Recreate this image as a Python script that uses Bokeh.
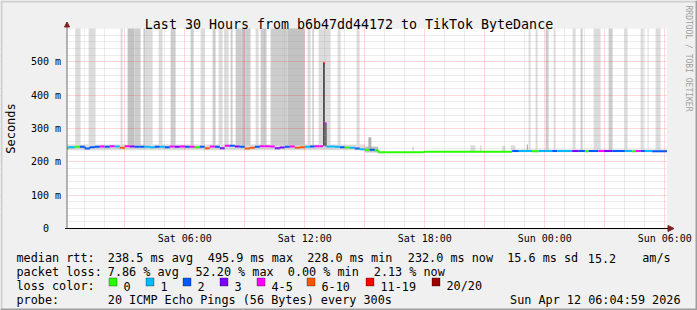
import math
from bokeh.plotting import figure
from bokeh.models import (FixedTicker, Label, BoxAnnotation, Arrow, NormalHead,
                          Range1d, ColumnDataSource)
from bokeh.embed import file_html
from bokeh.resources import INLINE

# ---------------- data ----------------
# time axis: hours since Sat 00:00
X0, X1 = 0.11, 30.11
tick_hours = [6, 12, 18, 24, 30]
tick_labels = ["Sat 06:00", "Sat 12:00", "Sat 18:00", "Sun 00:00", "Sun 06:00"]
Y_MAX = 600
y_ticks = [0, 100, 200, 300, 400, 500]
y_labels = ["0\u00a0\u00a0", "100 m", "200 m", "300 m", "400 m", "500 m"]

loss_labels = ["0", "1", "2", "3", "4-5", "6-10", "11-19", "20/20"]
loss_colors = ["#26ff00", "#00b8ff", "#0059ff", "#7e00ff",
               "#ff00ff", "#ff5500", "#ff0000", "#a10000"]

# median rtt (ms) per interval start (hours) with loss class index
med_t = [0.00, 0.17, 0.50, 0.75, 1.00, 1.25, 1.50, 1.75, 2.00, 2.25,
         2.50, 2.75, 3.00, 3.25, 3.50, 3.75, 4.00, 4.25, 4.50, 4.75,
         5.00, 5.25, 5.50, 5.75, 6.00, 6.25, 6.50, 6.75, 7.00, 7.25,
         7.50, 7.75, 8.00, 8.25, 8.50, 8.75, 9.00, 9.25, 9.50, 9.75,
         10.00, 10.25, 10.50, 10.75, 11.00, 11.25, 11.50, 11.75, 12.00, 12.25,
         12.50, 12.75, 12.92, 13.00, 13.08, 13.25, 13.50, 13.75, 14.00, 14.25,
         14.50, 14.75, 15.00, 15.25, 15.50, 15.67, 17.95, 22.37, 22.70, 23.37,
         23.69, 24.37, 24.62, 25.37, 25.70, 26.03, 26.19, 26.68, 26.94, 27.37,
         28.03, 28.37, 28.54, 28.80, 29.04, 29.37]
med_v = [241, 244, 245, 245, 240, 244, 245, 246, 245, 247,
         246, 242, 247, 246, 245, 245, 245, 244, 245, 245,
         244, 246, 245, 246, 245, 245, 244, 245, 241, 246,
         245, 241, 248, 248, 246, 245, 240, 242, 245, 247,
         247, 246, 241, 243, 245, 246, 242, 244, 245, 246,
         247, 247, 495.9, 316, 246, 246, 245, 244, 243, 242,
         240, 238, 236, 236, 235, 228.5, 230.5, 232.5, 232.5, 232,
         232.5, 232.5, 232.5, 232.5, 232.5, 232, 232.5, 232.5, 232.5, 232.5,
         232.5, 232, 232.5, 232.5, 232.5, 232]
med_c = [5, 1, 0, 2, 2, 2, 2, 4, 2, 4,
         1, 5, 4, 3, 2, 2, 1, 1, 2, 1,
         2, 4, 3, 4, 2, 4, 0, 2, 5, 4,
         2, 3, 4, 2, 3, 2, 5, 5, 2, 4,
         4, 4, 3, 3, 2, 4, 5, 5, 1, 2,
         4, 4, 6, 4, 1, 1, 1, 2, 0, 1,
         2, 1, 0, 2, 0, 0, 0, 2, 1, 0,
         1, 2, 1, 3, 2, 0, 2, 4, 3, 2,
         1, 0, 4, 2, 1, 2]

# smoke: interval start/end (hours), low/high rtt (ms), pings in that band
smoke_t0 = [0.00, 15.00, 22.37,
            0.52, 1.19, 2.79, 3.14, 3.49, 3.94, 3.99, 4.69, 5.29, 6.29,
            6.79, 7.39, 7.69, 7.99, 8.29, 8.54, 8.84, 9.04, 9.54, 9.79,
            10.29, 11.14, 12.14, 12.39, 12.69, 13.64, 14.59,
            12.92, 13.00,
            15.18, 17.37, 20.28, 20.76, 21.87, 22.30, 23.10,
            23.19, 23.54, 24.04, 24.44, 25.39, 25.79, 26.44, 27.19, 27.99,
            28.79, 29.14, 29.54]
smoke_t1 = [15.00, 15.67, 30.11,
            0.79, 1.54, 2.89, 3.49, 3.79, 3.99, 4.39, 4.89, 5.54, 6.44,
            6.99, 7.54, 7.89, 8.19, 8.39, 8.84, 9.04, 9.29, 9.69, 10.09,
            11.14, 11.99, 12.29, 12.44, 13.29, 13.79, 14.74,
            13.00, 13.10,
            15.33, 17.45, 20.53, 20.84, 22.03, 22.53, 23.16,
            23.29, 23.64, 24.19, 24.54, 25.54, 25.89, 26.79, 27.39, 28.14,
            28.94, 29.19, 29.79]
smoke_lo = [235, 228, 229,
            249, 249, 249, 249, 249, 249, 249, 249, 249, 249,
            249, 249, 249, 249, 249, 249, 249, 249, 249, 249,
            249, 249, 249, 249, 249, 249, 246,
            248, 246,
            238, 231, 232, 232, 232, 233, 234,
            235, 235, 235, 235, 235, 235, 235, 235, 235,
            235, 235, 235]
smoke_hi = [252, 246, 237,
            650, 650, 650, 650, 650, 650, 650, 650, 650, 650,
            650, 650, 650, 650, 650, 650, 650, 650, 650, 650,
            650, 650, 650, 650, 650, 650, 650,
            497, 316,
            274, 246, 250, 249, 248, 250, 252,
            650, 650, 650, 650, 650, 650, 650, 650, 650,
            650, 650, 650]
smoke_n = [1, 3, 1,
           1, 1, 1, 3, 2, 4, 1, 1, 2, 2,
           1, 2, 1, 1, 2, 2, 3, 2, 1, 2,
           2, 3, 1, 4, 1, 1, 1,
           19, 10,
           4, 1, 1, 1, 1, 1, 4,
           1, 1, 2, 1, 1, 2, 1, 2, 1,
           1, 1, 1]

title_text = "Last 30 Hours from b6b47dd44172 to TikTok ByteDance"
watermark = "RRDTOOL / TOBI OETIKER"
y_title = "Seconds"
row1 = ["median rtt:", "238.5 ms avg", "495.9 ms max", "228.0 ms min",
        "232.0 ms now", "15.6 ms sd", "15.2", "am/s"]
row2 = ["packet loss:", "7.86 % avg", "52.20 % max", "0.00 % min", "2.13 % now"]
row3 = "loss color:"
row4 = ["probe:", "20 ICMP Echo Pings (56 Bytes) every 300s"]
stamp = "Sun Apr 12 06:04:59 2026"

# ---------------- style / layout ----------------
MONO = "DejaVu Sans Mono"
BG = "#f0f0f0"
shade = {1: "#dcdcdc", 2: "#cdcdcd", 3: "#c2c2c2", 4: "#b2b2b2",
         10: "#6e6e6e", 19: "#2e2e2e"}

W, H = 697, 310
PX_H, MS_PX = 20.0, 3.0       # px per hour, ms per px
ZERO_PY = 228                 # canvas row of 0 ms
XR0 = 6 - 184.3 / PX_H        # hour at canvas column 0
XR1 = XR0 + W / PX_H
YR0 = -(H - ZERO_PY) * MS_PX
YR1 = ZERO_PY * MS_PX

def cx(px):
    return XR0 + px / PX_H

def cy(py):
    return (ZERO_PY - py) * MS_PX

p = figure(width=W, height=H, output_backend="svg", toolbar_location=None,
           title=None, x_range=Range1d(XR0, XR1), y_range=Range1d(YR0, YR1),
           min_border=0)
p.background_fill_color = BG
p.border_fill_color = BG
p.outline_line_color = None

# white data canvas
p.add_layout(BoxAnnotation(left=X0, right=X1, bottom=0, top=Y_MAX,
                           fill_color="white", fill_alpha=1, line_color=None,
                           level="underlay"))

# smoke
src_s = ColumnDataSource(dict(left=smoke_t0, right=smoke_t1, bottom=smoke_lo,
                              top=smoke_hi, color=[shade[n] for n in smoke_n]))
p.quad(left="left", right="right", bottom="bottom", top="top",
       fill_color="color", line_color=None, source=src_s)

# median line, coloured by loss
ends = med_t[1:] + [X1]
cols = [loss_colors[c] for c in med_c]
p.segment(x0=med_t, y0=med_v, x1=ends, y1=med_v, line_color=cols,
          line_width=2, line_cap="butt")
vx, vy0, vy1, vc = [], [], [], []
for i in range(1, len(med_t)):
    if med_c[i] == med_c[i - 1]:
        vx.append(med_t[i]); vy0.append(med_v[i - 1]); vy1.append(med_v[i])
        vc.append(cols[i])
p.segment(x0=vx, y0=vy0, x1=vx, y1=vy1, line_color=vc, line_width=2,
          line_cap="butt")

# grid
p.xgrid.ticker = FixedTicker(ticks=[3, 6, 9, 12, 15, 18, 21, 24, 27, 30],
                             minor_ticks=[h for h in range(1, 31) if h % 3])
p.ygrid.ticker = FixedTicker(ticks=[100, 200, 300, 400, 500],
                             minor_ticks=[v for v in range(20, 600, 20) if v % 100])
for g in (p.xgrid[0], p.ygrid[0]):
    g.level = "guide"
    g.grid_line_color = "#ff0000"
    g.grid_line_alpha = 0.3
    g.grid_line_dash = "1 1"
    g.minor_grid_line_color = "#a0a0a0"
    g.minor_grid_line_alpha = 0.4
    g.minor_grid_line_dash = "1 1"

# background outside the data canvas (hides grid / smoke overflow)
for kw in (dict(bottom=Y_MAX), dict(top=0), dict(left=X1, bottom=0, top=Y_MAX),
           dict(right=X0, bottom=0, top=Y_MAX)):
    p.add_layout(BoxAnnotation(fill_color=BG, fill_alpha=1, line_color=None, **kw))

# axes drawn at fixed data locations
xa = p.xaxis[0]
xa.fixed_location = 0
xa.ticker = FixedTicker(ticks=tick_hours)
xa.major_label_overrides = {t: l for t, l in zip(tick_hours, tick_labels)}
ya = p.yaxis[0]
ya.fixed_location = X0
ya.ticker = FixedTicker(ticks=y_ticks)
ya.major_label_overrides = {t: l for t, l in zip(y_ticks, y_labels)}
for ax in (xa, ya):
    ax.level = "overlay"
    ax.major_label_text_font = MONO
    ax.major_label_text_font_size = "10px"
    ax.major_label_text_color = "black"
    ax.major_tick_out = 0
    ax.major_tick_in = 0
    ax.minor_tick_out = 0
    ax.minor_tick_in = 0
    ax.axis_line_color = None
xa.major_label_standoff = 4
ya.major_label_standoff = 6

# axis lines with arrow heads
p.add_layout(Arrow(x_start=cx(64.5), x_end=cx(673.5), y_start=0, y_end=0,
                   line_color="black", line_width=1,
                   end=NormalHead(size=6, fill_color="#7f1f1f", line_color="#7f1f1f")))
p.add_layout(Arrow(x_start=X0, x_end=X0, y_start=0, y_end=cy(21.5),
                   line_color="#707070", line_width=1,
                   end=NormalHead(size=5, fill_color="#7f1f1f", line_color="#7f1f1f")))

# 3D frame of the picture
for kw, col in ((dict(bottom=cy(2)), "#cfcfcf"), (dict(right=cx(2)), "#cfcfcf"),
                (dict(left=cx(695)), "#9e9e9e"), (dict(top=cy(308)), "#9e9e9e")):
    p.add_layout(BoxAnnotation(fill_color=col, fill_alpha=1, line_color=None, **kw))

def lab(px, py, text, size="11.8px", align="left", color="black",
        angle=0.0, baseline="alphabetic"):
    p.add_layout(Label(x=cx(px), y=cy(py), text=text, text_font=MONO,
                       text_font_size=size, text_align=align,
                       text_baseline=baseline, text_color=color, angle=angle))

lab(348.5, 24, title_text, size="13.3px", align="center")
lab(688, 5, watermark, size="8px", color="#a0a0a0", angle=-math.pi / 2,
    baseline="middle")
lab(10.5, 128, y_title, size="12px", align="center", angle=math.pi / 2,
    baseline="middle")

# legend block
r1x = [16, 107.3, 207.3, 306.7, 407.3, 506.7, 587.3, 641.7]
for x, t in zip(r1x, row1):
    lab(x, 257.5, t)
r2x = [16, 107.3, 195, 287.3, 373.3]
for x, t in zip(r2x, row2):
    lab(x, 271.5, t)
lab(16, 285.5, row3)
bx = [108.5, 145.5, 182.5, 219.5, 256.5, 306.5, 365.5, 431.5]
for x, name, col in zip(bx, loss_labels, loss_colors):
    p.add_layout(BoxAnnotation(left=cx(x), right=cx(x + 8), top=cy(277.5),
                               bottom=cy(285.5), fill_color=col, fill_alpha=1,
                               line_color="black", line_width=1))
    lab(x + 14.5, 285.5, name)
lab(16, 299.5, row4[0])
lab(107.3, 299.5, row4[1])
lab(680, 299.5, stamp, align="right")

open("out.html", "w").write(file_html(p, INLINE))
